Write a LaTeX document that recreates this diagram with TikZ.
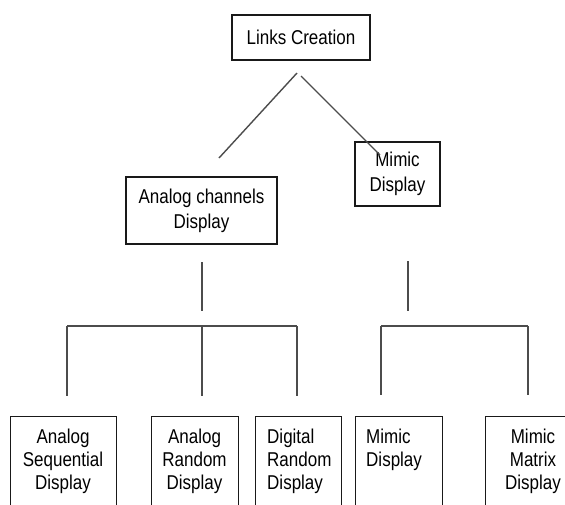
\documentclass[tikz,border=0pt]{standalone}
\usepackage{fontspec}
\setmainfont{Liberation Sans}[FakeStretch=0.85]
\begin{document}
\begin{tikzpicture}[x=1pt,y=-1pt,
  box/.style={draw=black!90, line width=1.4pt, inner sep=0pt},
  lnk/.style={draw=black!70, line width=1.4pt},
  txt/.style={font=\fontsize{20}{25}\selectfont, inner sep=0pt, align=center},
  btxt/.style={font=\fontsize{20}{23.3}\selectfont, inner sep=0pt, anchor=north},
  bbox/.style={box, anchor=north west, minimum height=120pt}]
\useasboundingbox (0,0) rectangle (565,504);
\clip (0,0) rectangle (565,504);
% top level
\node[box, txt, minimum width=138pt, minimum height=45pt] (links) at (301,37.5) {Links Creation};
\node[box, txt, minimum width=151pt, minimum height=67pt] (analog) at (201.5,210.5) {Analog channels\\Display};
\node[box, txt, minimum width=85pt, minimum height=64pt] (mimic) at (397.5,174) {Mimic\\Display};
% bottom boxes
\node[bbox, minimum width=106pt] (b1) at (10,416) {};
\node[bbox, minimum width=87pt] (b2) at (151,416) {};
\node[bbox, minimum width=86pt] (b3) at (255,416) {};
\node[bbox, minimum width=87pt] (b4) at (355,416) {};
\node[bbox, minimum width=120pt] (b5) at (485,416) {};
\node[btxt, align=center] (t1) at (63,428.5) {Analog\\Sequential\\Display};
\node[btxt, align=center] (t2) at (194.5,428.5) {Analog\\Random\\Display};
\node[btxt, align=left, anchor=north west] (t3) at (267,428.5) {Digital\\Random\\Display};
\node[btxt, align=left, anchor=north west] (t4) at (366,428.5) {Mimic\\Display};
\node[btxt, align=center] (t5) at (533,428.5) {Mimic\\Matrix\\Display};
% connector end points
\coordinate (l1a) at (297,73);
\coordinate (l1b) at (219,158);
\coordinate (l2a) at (301,76);
\coordinate (l2b) at (380,155);
\coordinate (va) at (202,262);
\coordinate (vb) at (202,326);
\coordinate (ha) at (67,326);
\coordinate (hb) at (297,326);
\coordinate (d1) at (67,396);
\coordinate (d2) at (202,396);
\coordinate (d3) at (297,396);
\coordinate (wa) at (408,261);
\coordinate (wb) at (408,311);
\coordinate (ga) at (381,326);
\coordinate (gb) at (528,326);
\coordinate (e1) at (381,395);
\coordinate (e2) at (528,395);
% connectors
\draw[lnk] (l1a) -- (l1b);
\draw[lnk] (l2a) -- (l2b);
\draw[lnk] (va) -- (202,311);
\draw[lnk] (ha) -- (hb);
\draw[lnk] (ha) -- (d1);
\draw[lnk] (vb) -- (d2);
\draw[lnk] (hb) -- (d3);
\draw[lnk] (wa) -- (wb);
\draw[lnk] (ga) -- (gb);
\draw[lnk] (ga) -- (e1);
\draw[lnk] (gb) -- (e2);
\end{tikzpicture}
\end{document}
